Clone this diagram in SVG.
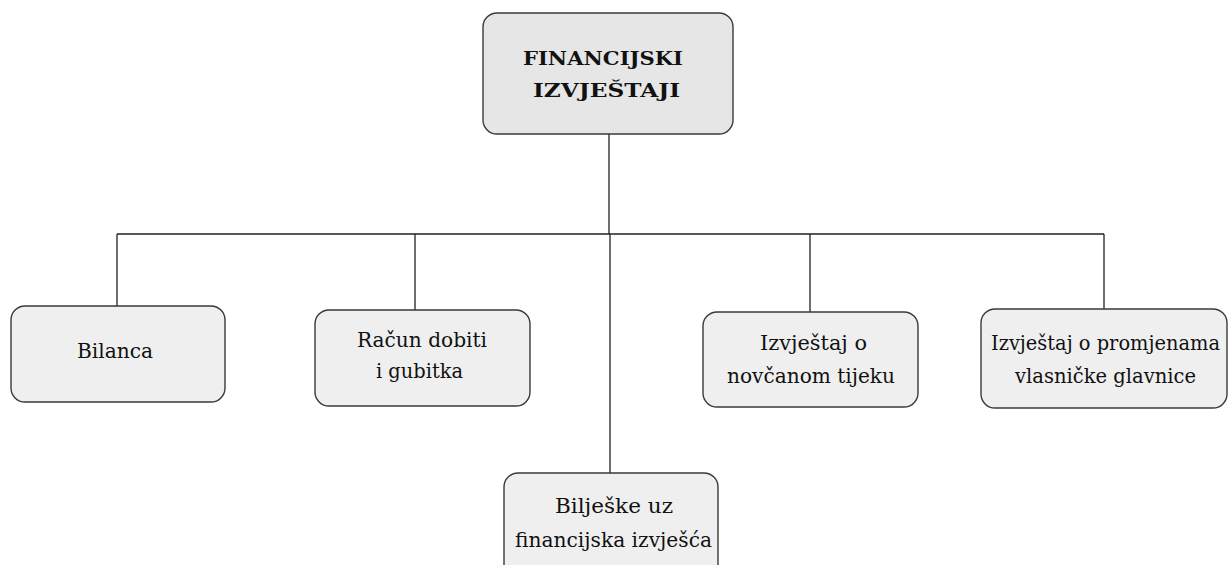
<svg xmlns="http://www.w3.org/2000/svg" width="1229" height="565" viewBox="0 0 1229 565">
<style>
.box{fill:#efefef;stroke:#3a3a3a;stroke-width:1.4}
.top{fill:#e6e6e6;stroke:#3a3a3a;stroke-width:1.4}
.t{font-family:"DejaVu Serif",serif;font-size:21px;fill:#111}
.s{font-size:20px}
.tb{font-family:"DejaVu Serif",serif;font-size:19px;font-weight:bold;fill:#111}
.c{stroke:#222;stroke-width:1.3;fill:none}
</style>
<rect width="1229" height="565" fill="#fff"/>
<g id="connectors">
<path class="c" d="M609 134V234M610 234V473M117 234H1104M117 234V306M415 234V310M810 234V312M1104 234V309"/>
</g>
<g id="root">
<rect class="top" x="483" y="13" width="250" height="121" rx="14"/>
<text class="tb" x="523" y="65" textLength="160" lengthAdjust="spacingAndGlyphs">FINANCIJSKI</text>
<text class="tb" x="533" y="97" textLength="147" lengthAdjust="spacingAndGlyphs">IZVJEŠTAJI</text>
</g>
<g id="bilanca">
<rect class="box" x="11" y="306" width="214" height="96" rx="14"/>
<text class="t" x="77" y="358" textLength="76" lengthAdjust="spacingAndGlyphs">Bilanca</text>
</g>
<g id="racun">
<rect class="box" x="315" y="310" width="215" height="96" rx="14"/>
<text class="t" x="357" y="347" textLength="130" lengthAdjust="spacingAndGlyphs">Račun dobiti</text>
<text class="t" x="376" y="378" textLength="87" lengthAdjust="spacingAndGlyphs">i gubitka</text>
</g>
<g id="novcani">
<rect class="box" x="703" y="312" width="215" height="95" rx="14"/>
<text class="t" x="760" y="350" textLength="107" lengthAdjust="spacingAndGlyphs">Izvještaj o</text>
<text class="t" x="727" y="383" textLength="168" lengthAdjust="spacingAndGlyphs">novčanom tijeku</text>
</g>
<g id="promjene">
<rect class="box" x="981" y="309" width="246" height="99" rx="14"/>
<text class="t s" x="991" y="350" textLength="229" lengthAdjust="spacingAndGlyphs">Izvještaj o promjenama</text>
<text class="t" x="1015" y="383" textLength="181" lengthAdjust="spacingAndGlyphs">vlasničke glavnice</text>
</g>
<g id="biljeske">
<rect class="box" x="504" y="473" width="214" height="110" rx="14"/>
<text class="t" x="555" y="513" textLength="118" lengthAdjust="spacingAndGlyphs">Bilješke uz</text>
<text class="t" x="515" y="547" textLength="197" lengthAdjust="spacingAndGlyphs">financijska izvješća</text>
</g>
</svg>
